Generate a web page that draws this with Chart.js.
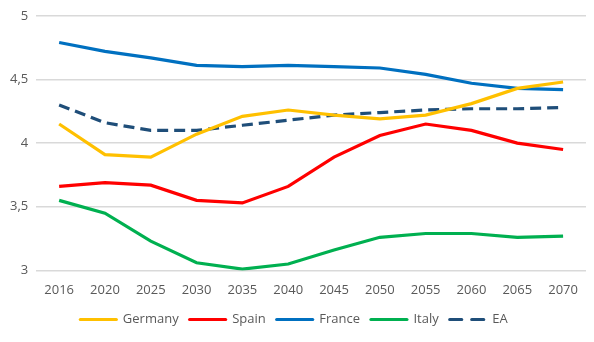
<!DOCTYPE html>
<html>
<head>
<meta charset="utf-8">
<script src="https://cdn.jsdelivr.net/npm/chart.js@4"></script>
<style>
  html, body { margin: 0; padding: 0; background: #fff; }
  #wrap { width: 594px; height: 342px; }
</style>
</head>
<body>
<div id="wrap"><canvas id="myChart"></canvas></div>
<script>
const years = ['2016', '2020', '2025', '2030', '2035', '2040', '2045', '2050', '2055', '2060', '2065', '2070'];

const germany = [4.15, 3.91, 3.89, 4.07, 4.21, 4.26, 4.22, 4.19, 4.22, 4.31, 4.43, 4.48];
const spain   = [3.66, 3.69, 3.67, 3.55, 3.53, 3.66, 3.89, 4.06, 4.15, 4.10, 4.00, 3.95];
const france  = [4.79, 4.72, 4.67, 4.61, 4.60, 4.61, 4.60, 4.59, 4.54, 4.47, 4.43, 4.42];
const italy   = [3.55, 3.45, 3.23, 3.06, 3.01, 3.05, 3.16, 3.26, 3.29, 3.29, 3.26, 3.27];
const ea      = [4.30, 4.16, 4.10, 4.10, 4.14, 4.18, 4.22, 4.24, 4.26, 4.27, 4.27, 4.28];

const yTicks = [3, 3.5, 4, 4.5, 5];

function line(label, data, color, dash) {
	return {
		label: label,
		data: data,
		borderColor: color,
		backgroundColor: color,
		borderWidth: 3.2,
		borderDash: dash || [],
		pointRadius: 0,
		tension: 0
	};
}

const ctx = document.getElementById('myChart').getContext('2d');
const myChart = new Chart(ctx, {
	type: 'line',
	data: {
		labels: years,
		datasets: [
			line('Germany', germany, '#FFC000'),
			line('Spain', spain, '#FF0000'),
			line('France', france, '#0070C0'),
			line('Italy', italy, '#00B050'),
			line('EA', ea, '#1F4E79', [11, 6])
		]
	},
	options: {
		responsive: true,
		maintainAspectRatio: false,
		animation: false,
		layout: { padding: { top: 4, right: 8, left: 2, bottom: 6 } },
		plugins: {
			tooltip: { enabled: false },
			legend: {
				position: 'bottom',
				labels: {
					usePointStyle: true,
					pointStyle: 'line',
					pointStyleWidth: 36,
					boxHeight: 3,
					padding: 11,
					color: '#595959',
					font: { family: 'Open Sans', size: 13 },
					// point style legend drops the dash, put it back from the dataset
					generateLabels: function(chart) {
						const items = Chart.defaults.plugins.legend.labels.generateLabels(chart);
						items.forEach(function(it) {
							const ds = chart.data.datasets[it.datasetIndex];
							it.lineDash = ds.borderDash.length ? [12, 10] : [];
							it.lineCap = 'round';
						});
						return items;
					}
				}
			}
		},
		scales: {
			x: {
				offset: true,
				grid: { display: false },
				border: { display: false },
				ticks: {
					color: '#595959',
					padding: 4,
					maxRotation: 0,
					font: { family: 'Open Sans', size: 13 }
				}
			},
			y: {
				min: 3,
				max: 5,
				afterBuildTicks: function(axis) {
					axis.ticks = yTicks.map(v => ({ value: v }));
				},
				grid: { color: '#D9D9D9', lineWidth: 1.5, drawTicks: false },
				border: { display: false },
				ticks: {
					color: '#595959',
					padding: 8,
					font: { family: 'Open Sans', size: 13 },
					callback: v => String(v).replace('.', ',')
				}
			}
		}
	}
});
</script>
</body>
</html>
